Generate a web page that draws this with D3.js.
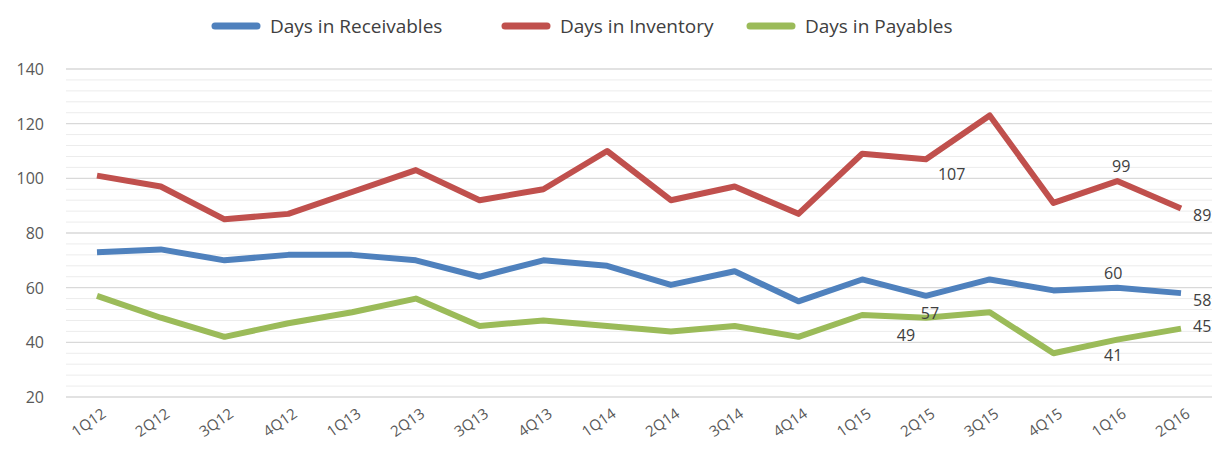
<!DOCTYPE html><html><head><script src="https://cdn.jsdelivr.net/npm/d3@7"></script>
<style>body{margin:0;background:#fff;font-family:"Open Sans",Calibri,sans-serif}</style></head><body><svg id="c" width="1232" height="452"></svg>
<script>
const categories=["1Q12","2Q12","3Q12","4Q12","1Q13","2Q13","3Q13","4Q13","1Q14","2Q14","3Q14","4Q14","1Q15","2Q15","3Q15","4Q15","1Q16","2Q16"];
const receivables=[73,74,70,72,72,70,64,70,68,61,66,55,63,57,63,59,60,58];
const inventory=[101,97,85,87,95,103,92,96,110,92,97,87,109,107,123,91,99,89];
const payables=[57,49,42,47,51,56,46,48,46,44,46,42,50,49,51,36,41,45];
const yTicks=[20,40,60,80,100,120,140];
const seriesNames=["Days in Receivables","Days in Inventory","Days in Payables"];
const colors=["#4f81bd","#c0504d","#9bbb59"];
const labelsAt=[[1,13,12,16],[1,16,4,-14],[1,17,12,8],[0,16,-4,-14],[0,13,4,18],[0,17,12,8],[2,13,-20,18],[2,16,-4,16],[2,17,12,-2]];
const svg=d3.select("#c");
const x=d3.scalePoint().domain(categories).range([97,1181]);
const y=d3.scaleLinear().domain([20,140]).range([397,69]);
const L=66,R=1212;
d3.range(20,141,4).forEach(v=>{svg.append("line").attr("x1",L).attr("x2",R).attr("y1",y(v)).attr("y2",y(v)).attr("stroke",v%20===0?"#d9d9d9":"#ececec").attr("stroke-width",v%20===0?1.3:1);});
yTicks.forEach(v=>svg.append("text").attr("x",44).attr("y",y(v)+6).attr("text-anchor","end").attr("font-size",16).attr("fill","#595959").text(v));
categories.forEach(c=>svg.append("text").attr("transform",`translate(${x(c)+10},${416}) rotate(-35)`).attr("text-anchor","end").attr("font-size",15).attr("fill","#595959").text(c));
const data=[receivables,inventory,payables];
const line=d3.line().x((d,i)=>x(categories[i])).y(d=>y(d));
data.forEach((s,k)=>svg.append("path").attr("d",line(s)).attr("fill","none").attr("stroke",colors[k]).attr("stroke-width",6).attr("stroke-linejoin","round"));
labelsAt.forEach(([k,i,dx,dy])=>svg.append("text").attr("x",x(categories[i])+dx).attr("y",y(data[k][i])+dy+5).attr("font-size",16).attr("fill","#404040").attr("text-anchor",dx>=12?"start":"middle").text(data[k][i]));
const lx=[215,505,750];
seriesNames.forEach((n,k)=>{svg.append("line").attr("x1",lx[k]).attr("x2",lx[k]+42).attr("y1",26).attr("y2",26).attr("stroke",colors[k]).attr("stroke-width",7).attr("stroke-linecap","round");
svg.append("text").attr("x",lx[k]+55).attr("y",33).attr("font-size",19).attr("fill","#404040").text(n);});
</script></body></html>
